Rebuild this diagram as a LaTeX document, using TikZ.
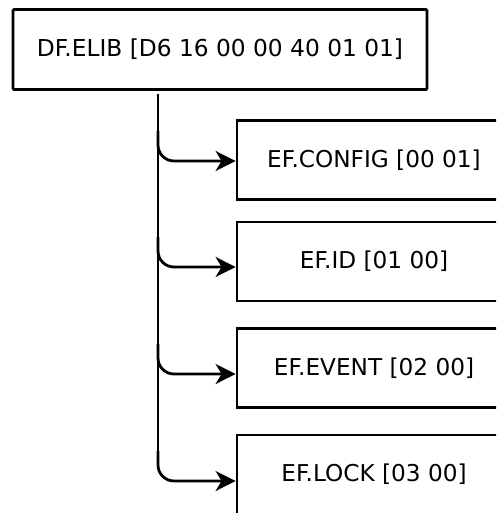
\documentclass[tikz,border=0pt]{standalone}
\usepackage{fontspec}
\setmainfont{DejaVu Sans}
\usetikzlibrary{arrows.meta}
\begin{document}
\begin{tikzpicture}[x=1pt,y=1pt,
  rootbox/.style={draw=black,line width=2.8pt,rounded corners=1.2pt,minimum width=414pt,minimum height=80pt,inner sep=0pt,font=\fontsize{23.3}{28}\selectfont},
  filebox/.style={draw=black,line width=2.8pt,minimum width=274pt,minimum height=79pt,inner sep=0pt,font=\fontsize{23.2}{28}\selectfont},
  link/.style={line width=2.8pt,rounded corners=16pt,-{Stealth[length=20pt,width=20pt,inset=6pt]}},
  trunk/.style={line width=2.8pt}]
\clip (0,0) rectangle (496,-513);
\useasboundingbox (0,0) rectangle (496,-513);
\node[rootbox] (root) at (220,-49.5) {DF.ELIB [D6 16 00 00 40 01 01]};
\node[filebox] (cfg) at (374,-160) {EF.CONFIG [00 01]};
\node[filebox] (id) at (374,-261.5) {EF.ID [01 00]};
\node[filebox] (evt) at (374,-368) {EF.EVENT [02 00]};
\node[filebox] (lck) at (374,-474.5) {EF.LOCK [03 00]};
% trunk and branch points
\coordinate (top) at (158,-94);
\coordinate (b1) at (158,-161);
\coordinate (b2) at (158,-267);
\coordinate (b3) at (158,-374);
\coordinate (b4) at (158,-481);
\draw[trunk] (top) -- ([yshift=30pt]b4);
\draw[link] ([yshift=30pt]b1) -- (b1) -- (b1 -| cfg.west);
\draw[link] ([yshift=30pt]b2) -- (b2) -- (b2 -| id.west);
\draw[link] ([yshift=30pt]b3) -- (b3) -- (b3 -| evt.west);
\draw[link] ([yshift=30pt]b4) -- (b4) -- (b4 -| lck.west);
\end{tikzpicture}
\end{document}
